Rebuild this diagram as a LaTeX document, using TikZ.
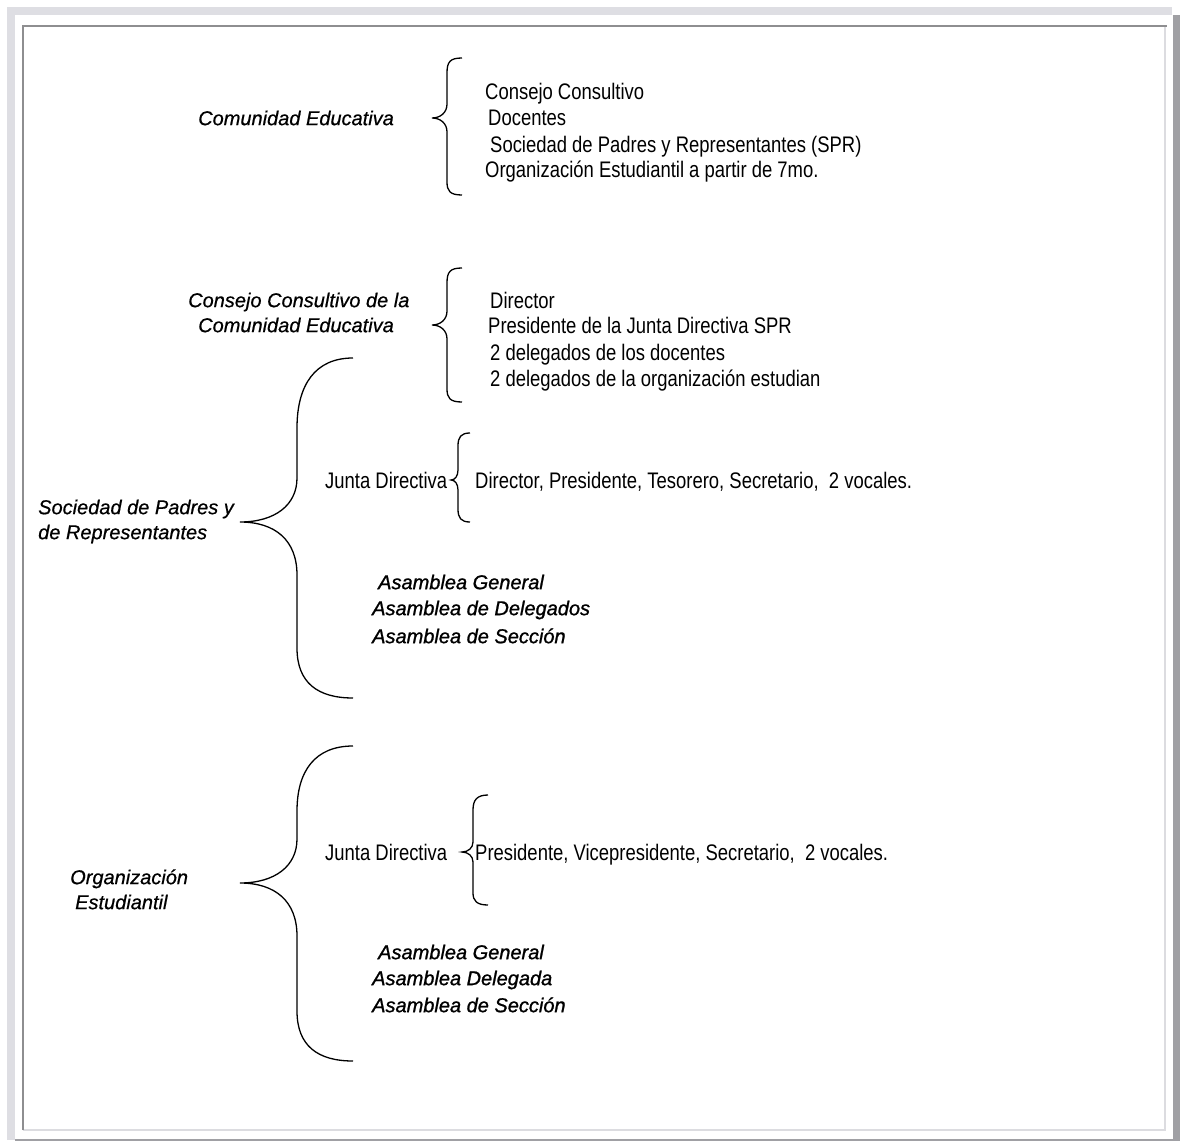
\documentclass[tikz,border=0pt]{standalone}
\usepackage{fontspec}
\setmainfont{Liberation Sans}
\newfontfamily\narrowfont[FakeStretch=0.82]{Liberation Sans}
\newfontfamily\labfont[FakeBold=0.6]{Liberation Sans}
\newfontfamily\asfont[FakeBold=1.1]{Liberation Sans}
\definecolor{bandgray}{HTML}{DEDEE3}
\definecolor{bargray}{HTML}{A0A0A4}
\definecolor{boxdark}{HTML}{8E8E90}
\definecolor{boxlight}{HTML}{DCDCE0}
\tikzset{
  plain/.style={anchor=west, inner sep=0pt, font=\narrowfont\fontsize{22.5}{26}\selectfont, text height=16pt, text depth=0pt},
  label/.style={anchor=west, inner sep=0pt, font=\labfont\fontsize{20}{24}\selectfont\itshape, text height=14.3pt, text depth=0pt},
  asam/.style={anchor=west, inner sep=0pt, font=\asfont\fontsize{20}{24}\selectfont\itshape, text height=14.3pt, text depth=0pt},
  bracel/.style={draw=black, line width=1.3pt}
}
\begin{document}
\begin{tikzpicture}[x=1pt,y=-1pt]
\useasboundingbox (0,0) rectangle (1186,1142);
\fill[white] (0,0) rectangle (1186,1142);
% frame
\fill[bandgray] (7,7) rectangle (15,1140);
\fill[bandgray] (7,7) rectangle (1172,15);
\fill[bargray] (1173,15) rectangle (1180,1140);
\fill[bargray] (15,1139) rectangle (1180,1141);
\draw[boxlight, line width=1.5pt] (1165,26) -- (1165,1130) -- (23,1130);
\draw[boxdark, line width=1.5pt] (23,1130) -- (23,26) -- (1167,26);

% section 1
\node[label] (ce) at (198,118) {Comunidad Educativa};
\draw[bracel] (462,58) .. controls (450,58) and (447,62) .. (447,73) -- (447,104) .. controls (447,113) and (440,118) .. (432,118)
  .. controls (440,118) and (447,123) .. (447,132) -- (447,182) .. controls (447,191) and (450,195) .. (462,195);
\node[plain] (ce1) at (485,92) {Consejo Consultivo};
\node[plain] (ce2) at (488,118) {Docentes};
\node[plain] (ce3) at (490,145) {Sociedad de Padres y Representantes (SPR)};
\node[plain] (ce4) at (485,170) {Organización Estudiantil a partir de 7mo.};

% section 2
\node[label] (cc1) at (188,300) {Consejo Consultivo de la};
\node[label] (cc2) at (198,325) {Comunidad Educativa};
\draw[bracel] (462,268) .. controls (450,268) and (447,272) .. (447,283) -- (447,311) .. controls (447,320) and (440,325) .. (432,325)
  .. controls (440,325) and (447,330) .. (447,339) -- (447,389) .. controls (447,398) and (450,402) .. (462,402);
\node[plain] (cm1) at (490,300) {Director};
\node[plain] (cm2) at (488,325) {Presidente de la Junta Directiva SPR};
\node[plain] (cm3) at (490,352) {2 delegados de los docentes};
\node[plain] (cm4) at (490,378) {2 delegados de la organización estudian};

% section 3
\node[label] (sp1) at (38,507) {Sociedad de Padres y};
\node[label] (sp2) at (38,532) {de Representantes};
\draw[bracel] (353,358) .. controls (315,358) and (297,385) .. (297,428) -- (297,478) .. controls (297,505) and (275,522) .. (240,522)
  .. controls (275,522) and (297,540) .. (297,575) -- (297,648) .. controls (297,683) and (318,698) .. (353,698);
\node[plain] (jd1) at (325,480) {Junta Directiva};
\draw[bracel] (470,433) .. controls (461,433) and (458,437) .. (458,446) -- (458,470) .. controls (458,476) and (455,480) .. (451,480)
  .. controls (455,480) and (458,484) .. (458,490) -- (458,509) .. controls (458,518) and (461,522) .. (470,522);
\node[plain] (jdm1) at (475,480) {Director, Presidente, Tesorero, Secretario,\ \ 2 vocales.};
\node[asam] (as1) at (378,582) {Asamblea General};
\node[asam] (as2) at (372,608) {Asamblea de Delegados};
\node[asam] (as3) at (372,636) {Asamblea de Sección};

% section 4
\node[label] (oe1) at (70,877) {Organización};
\node[label] (oe2) at (75,902) {Estudiantil};
\draw[bracel] (353,746) .. controls (315,746) and (297,771) .. (297,811) -- (297,839) .. controls (297,866) and (275,883) .. (240,883)
  .. controls (275,883) and (297,901) .. (297,936) -- (297,1011) .. controls (297,1046) and (318,1061) .. (353,1061);
\node[plain] (jd2) at (325,852) {Junta Directiva};
\draw[bracel] (488,795) .. controls (477,795) and (473,800) .. (473,810) -- (473,842) .. controls (473,848) and (468,852) .. (462,852)
  .. controls (468,852) and (473,856) .. (473,862) -- (473,893) .. controls (473,901) and (477,905) .. (488,905);
\node[plain] (jdm2) at (475,852) {Presidente, Vicepresidente, Secretario,\ \ 2 vocales.};
\node[asam] (ao1) at (378,952) {Asamblea General};
\node[asam] (ao2) at (372,978) {Asamblea Delegada};
\node[asam] (ao3) at (372,1005) {Asamblea de Sección};
\end{tikzpicture}
\end{document}
